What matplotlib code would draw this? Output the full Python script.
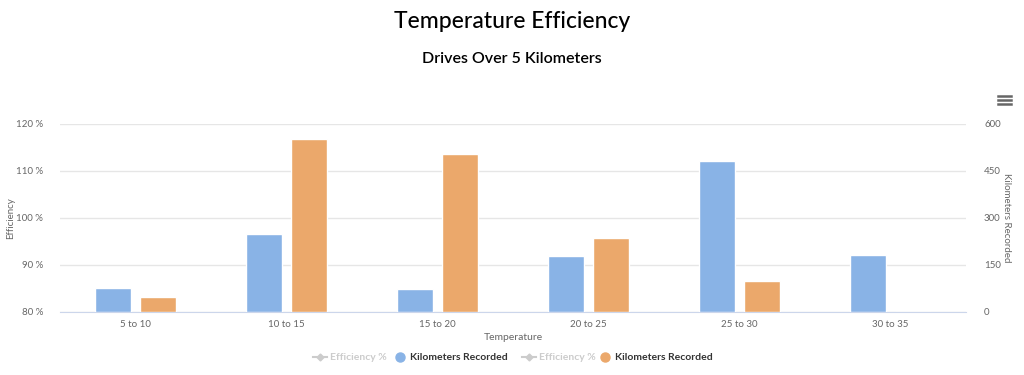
import matplotlib.pyplot as plt
import numpy as np
from matplotlib.lines import Line2D

# data
categories = ["5 to 10", "10 to 15", "15 to 20", "20 to 25", "25 to 30", "30 to 35"]
km_blue = [77, 249, 74, 178, 483, 182]
km_orange = [46, 551, 505, 236, 98, 0]
eff_ticks = [80, 90, 100, 110, 120]
km_ticks = [0, 150, 300, 450, 600]

BLUE = "#89b3e6"
ORANGE = "#eba86b"
GRID = "#e6e6e6"
TXT = "#666666"

plt.rcParams["font.family"] = ["Lato", "DejaVu Sans"]

fig = plt.figure(figsize=(10.24, 3.75), dpi=100)
ax = fig.add_axes([60 / 1024, 1 - 311.7 / 375, 906 / 1024, 187.7 / 375])
ax2 = ax.twinx()

x = np.arange(len(categories))
w = 0.24
off = 0.15
ax2.bar(x - off, km_blue, w, color=BLUE, edgecolor="white", linewidth=1, zorder=3)
ax2.bar(x + off, km_orange, w, color=ORANGE, edgecolor="white", linewidth=1, zorder=3)

ax.set_xlim(-0.5, len(categories) - 0.5)
ax.set_ylim(80, 120)
ax2.set_ylim(0, 600)
ax.set_yticks(eff_ticks)
ax.set_yticklabels([f"{t} %" for t in eff_ticks])
ax2.set_yticks(km_ticks)
ax2.set_yticklabels([str(t) for t in km_ticks])
ax.set_xticks(x)
ax.set_xticklabels(categories)

ax.yaxis.grid(True, color=GRID, linewidth=1)
ax.set_axisbelow(True)
for a in (ax, ax2):
    for s in a.spines.values():
        s.set_visible(False)
    a.tick_params(length=0, labelsize=7, labelcolor=TXT)
ax.spines["bottom"].set_visible(True)
ax.spines["bottom"].set_color("#ccd6eb")
ax.tick_params(axis="y", pad=12)
ax2.tick_params(axis="y", pad=13)
ax.tick_params(axis="x", pad=6)

ax.set_ylabel("Efficiency", fontsize=7, color=TXT)
ax.yaxis.set_label_coords(-0.0497, 0.5)
ax2.set_ylabel("Kilometers Recorded", fontsize=7, color=TXT, rotation=270, va="center")
ax2.yaxis.set_label_coords(1.0445, 0.5)
ax.set_xlabel("Temperature", fontsize=7.5, color=TXT, labelpad=3)

fig.text(0.5, 1 - 22 / 375, "Temperature Efficiency", ha="center", va="center",
         fontsize=16.5, color="black", fontweight="medium")
fig.text(0.5, 1 - 59 / 375, "Drives Over 5 Kilometers", ha="center", va="center",
         fontsize=11.5, color="black", fontweight="semibold")

# legend drawn by hand, Highcharts style
ly = 1 - 357 / 375
items = [
    (313, "line", "#cccccc", "Efficiency %", "#cccccc"),
    (400, "dot", BLUE, "Kilometers Recorded", "#333333"),
    (522, "line", "#cccccc", "Efficiency %", "#cccccc"),
    (605, "dot", ORANGE, "Kilometers Recorded", "#333333"),
]
for px, kind, col, label, tcol in items:
    if kind == "line":
        fig.add_artist(Line2D([px / 1024, (px + 14) / 1024], [ly, ly], color=col, lw=1.5))
        fig.add_artist(Line2D([(px + 7) / 1024], [ly], marker="D", markersize=3.5,
                              color=col, lw=0))
        fig.text((px + 17) / 1024, ly, label, fontsize=7.5, color=tcol,
                 fontweight="bold", va="center")
    else:
        fig.add_artist(Line2D([px / 1024], [ly], marker="o", markersize=6.5,
                              color=col, lw=0))
        fig.text((px + 10) / 1024, ly, label, fontsize=7.5, color=tcol,
                 fontweight="bold", va="center")

# hamburger menu icon
for dy in (-4, 0, 4):
    yy = 1 - (100 + dy) / 375
    fig.add_artist(Line2D([998 / 1024, 1011 / 1024], [yy, yy], color="#666666", lw=1.8))

fig.savefig("out.png", dpi=100)
